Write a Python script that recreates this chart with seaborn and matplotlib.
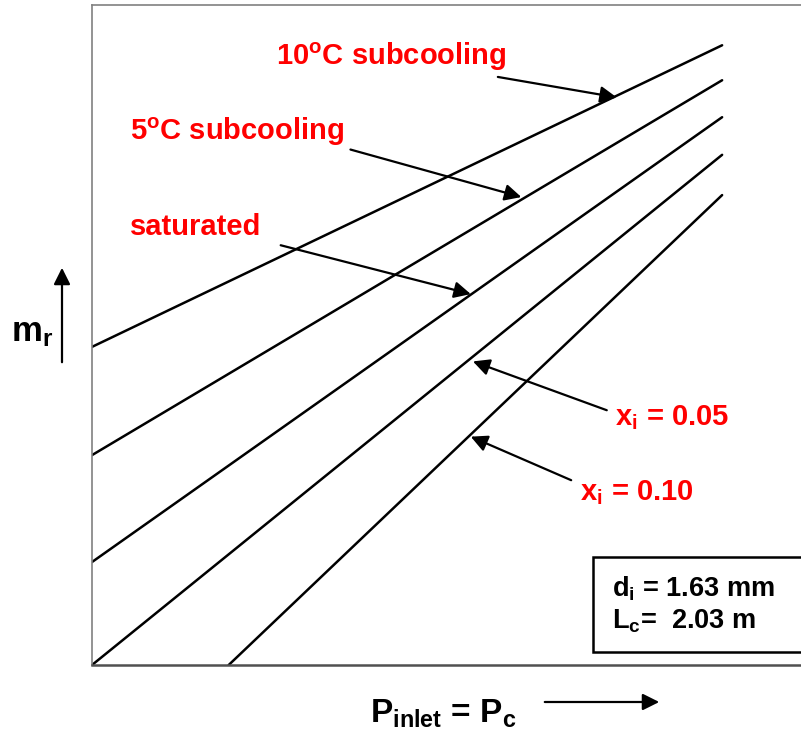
import pandas as pd
import matplotlib.pyplot as plt
from matplotlib.patches import Rectangle, FancyArrowPatch
import seaborn as sns

# line endpoints (arbitrary units, axes span 0..10)
series = ['10C subcooling', '5C subcooling', 'saturated', 'x_i = 0.05', 'x_i = 0.10']
x_start = [0.0, 0.0, 0.0, 0.0, 1.92]
y_start = [4.82, 3.18, 1.56, 0.0, 0.0]
x_end = [8.85, 8.85, 8.85, 8.85, 8.85]
y_end = [9.39, 8.86, 8.30, 7.73, 7.12]

labels = ['10$^\\mathregular{o}$C subcooling', '5$^\\mathregular{o}$C subcooling', 'saturated',
          'x$_\\mathregular{i}$ = 0.05', 'x$_\\mathregular{i}$ = 0.10']
label_pos = [(2.58, 9.22), (0.535, 8.08), (0.535, 6.63), (7.35, 3.75), (6.85, 2.61)]
arrow_tail = [(5.70, 8.91), (3.63, 7.81), (2.65, 6.36), (7.23, 3.86), (6.73, 2.80)]
arrow_head = [(7.37, 8.60), (6.03, 7.09), (5.32, 5.62), (5.35, 4.60), (5.32, 3.46)]

rows = []
for name, x0, y0, x1, y1 in zip(series, x_start, y_start, x_end, y_end):
    rows.append({'series': name, 'P': x0, 'm': y0})
    rows.append({'series': name, 'P': x1, 'm': y1})
df = pd.DataFrame(rows)

sns.set_style('white')
plt.rcParams['font.family'] = ['Liberation Sans', 'DejaVu Sans']
plt.rcParams['font.weight'] = 'bold'
plt.rcParams['text.color'] = 'black'
plt.rcParams['mathtext.fontset'] = 'custom'
plt.rcParams['mathtext.rm'] = 'Liberation Sans:bold'
plt.rcParams['mathtext.it'] = 'Liberation Sans:bold'
plt.rcParams['mathtext.bf'] = 'Liberation Sans:bold'

fig = plt.figure(figsize=(8.01, 7.32), dpi=100)
ax = fig.add_axes([92 / 801, 67 / 732, 712 / 801, 660 / 732])
sns.lineplot(data=df, x='P', y='m', units='series', estimator=None,
             color='black', lw=1.8, ax=ax)
ax.set_xlim(0, 10)
ax.set_ylim(0, 10)
ax.set_xticks([])
ax.set_yticks([])
ax.set_xlabel('')
ax.set_ylabel('')
ax.spines['right'].set_visible(False)
ax.spines['top'].set_color('#808080')
ax.spines['left'].set_color('#808080')
ax.spines['bottom'].set_color('#505050')
for s in ['top', 'left']:
    ax.spines[s].set_linewidth(1.2)
ax.spines['bottom'].set_linewidth(1.8)

for lab, (tx, ty), tail, head in zip(labels, label_pos, arrow_tail, arrow_head):
    ax.text(tx, ty, lab, color='#ff0000', fontsize=21, fontweight='bold',
            ha='left', va='center')
    ax.annotate('', xy=head, xytext=tail,
                arrowprops=dict(arrowstyle='-|>', color='black', lw=1.6,
                                mutation_scale=25, shrinkA=0, shrinkB=0))

ax.add_patch(Rectangle((7.04, 0.197), 2.93, 1.44, fill=False, ec='black', lw=1.8))
ax.text(7.30, 1.15, 'd$_\\mathregular{i}$ = 1.63 mm', fontsize=19.5, fontweight='bold',
        ha='left', va='center')
ax.text(7.30, 0.66, 'L$_\\mathregular{c}$=  2.03 m', fontsize=19.5, fontweight='bold',
        ha='left', va='center')

# axis labels with arrows
fig.text(11 / 801, 1 - 332 / 732, 'm$_\\mathregular{r}$', fontsize=25, fontweight='bold',
         ha='left', va='center')
fig.add_artist(FancyArrowPatch(
    (62 / 801, 1 - 365 / 732), (62 / 801, 1 - 265 / 732), transform=fig.transFigure,
    arrowstyle='-|>', color='black', lw=1.6, mutation_scale=25))
fig.text(370 / 801, 1 - 714 / 732, 'P$_\\mathregular{inlet}$ = P$_\\mathregular{c}$',
         fontsize=24, fontweight='bold', ha='left', va='center')
fig.add_artist(FancyArrowPatch(
    (542 / 801, 1 - 702 / 732), (662 / 801, 1 - 702 / 732), transform=fig.transFigure,
    arrowstyle='-|>', color='black', lw=1.6, mutation_scale=25))

fig.savefig('out.png', dpi=100)
